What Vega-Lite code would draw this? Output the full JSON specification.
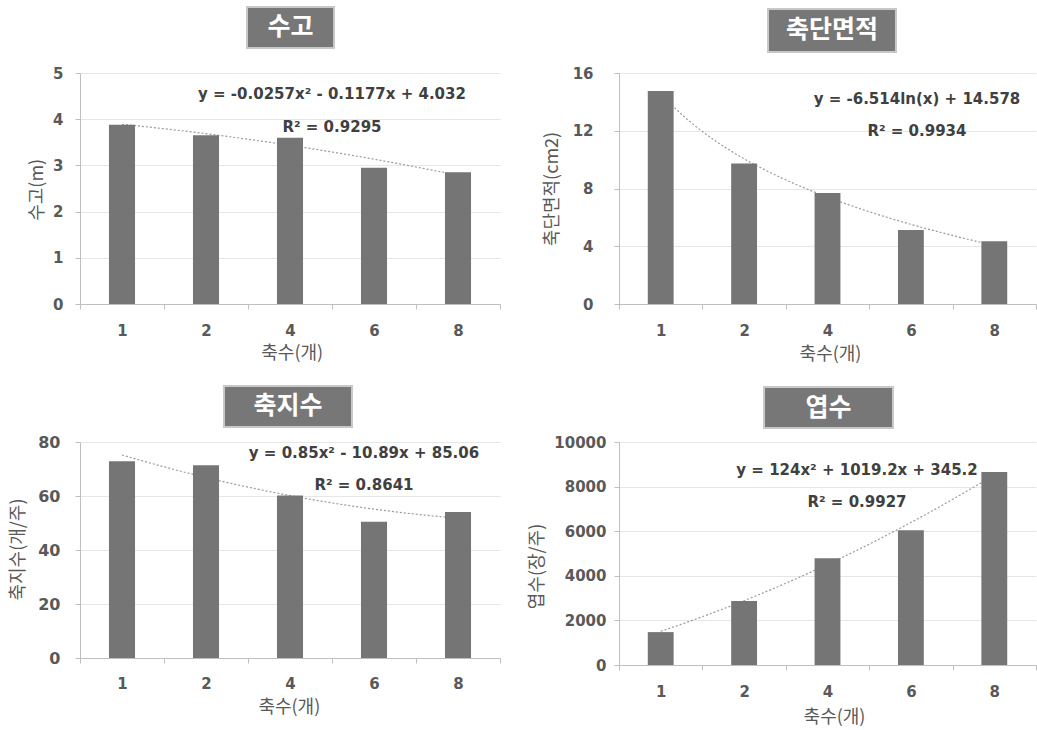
{
  "$schema": "https://vega.github.io/schema/vega-lite/v6.json",
  "background": "white",
  "padding": {"left": 9, "top": 5, "right": 0, "bottom": 0},
  "config": {
    "font": "Noto Sans CJK KR",
    "view": {"stroke": null},
    "axis": {
      "labelFont": "DejaVu Sans",
      "titleFont": "Noto Sans CJK KR",
      "labelColor": "#595959",
      "labelFontSize": 15,
      "labelFontWeight": "bold",
      "titleColor": "#595959",
      "titleFontSize": 18,
      "titleFontWeight": "normal",
      "domainColor": "#bfbfbf",
      "tickColor": "#bfbfbf",
      "gridColor": "#e6e6e6",
      "tickSize": 5
    },
    "text": {"font": "DejaVu Sans"}
  },
  "columns": 2,
  "bounds": "flush",
  "spacing": {"row": 138, "column": 119},
  "concat": [
    {
      "width": 420, "height": 231,
      "data": {"values": [
        {"축수": "1", "순번": 1, "수고": 3.88},
        {"축수": "2", "순번": 2, "수고": 3.65},
        {"축수": "4", "순번": 3, "수고": 3.60},
        {"축수": "6", "순번": 4, "수고": 2.95},
        {"축수": "8", "순번": 5, "수고": 2.85}
      ]},
      "layer": [
        {
          "transform": [{"regression": "수고", "on": "순번", "method": "poly", "order": 2, "extent": [1, 5]}],
          "mark": {"type": "line", "color": "#9a9a9a", "strokeWidth": 1.2, "strokeDash": [2, 2]},
          "encoding": {
            "x": {"field": "순번", "type": "quantitative", "scale": {"domain": [0.5, 5.5]}, "axis": null},
            "y": {"field": "수고", "type": "quantitative", "scale": {"domain": [0, 5]}, "title": "수고(m)"}
          }
        },
        {
          "mark": {"type": "bar", "color": "#757575", "width": {"band": 0.31}},
          "encoding": {
            "x": {"field": "축수", "type": "ordinal", "sort": null, "scale": {"paddingInner": 0, "paddingOuter": 0},
              "title": "축수(개)",
              "axis": {"tickBand": "extent", "labelAngle": 0, "labelPadding": 14, "titleX": 211.7, "titleY": 49.5, "titleBaseline": "middle", "titleAlign": "center"}},
            "y": {"field": "수고", "type": "quantitative", "scale": {"domain": [0, 5]}, "title": "수고(m)",
              "axis": {"values": [0, 1, 2, 3, 4, 5], "grid": true, "labelPadding": 12, "titleX": -43, "titleY": 116.3, "titleAngle": -90, "titleBaseline": "middle", "titleAlign": "center"}}
          }
        },
        {
          "data": {"values": [{"제목": "수고"}]},
          "mark": {"type": "rect", "fill": "#777777", "stroke": "#c8c8c8", "strokeWidth": 2},
          "encoding": {
            "x": {"datum": 2.488, "type": "quantitative", "scale": {"domain": [0.5, 5.5]}, "axis": null},
            "x2": {"datum": 3.524},
            "y": {"datum": 6.429, "type": "quantitative", "scale": {"domain": [0, 5]}},
            "y2": {"datum": 5.541}
          }
        },
        {
          "data": {"values": [{"제목": "수고"}]},
          "mark": {"type": "text", "font": "Noto Sans CJK KR", "color": "white", "fontSize": 25, "fontWeight": "bold"},
          "encoding": {
            "text": {"field": "제목"},
            "x": {"datum": 3.006, "type": "quantitative", "scale": {"domain": [0.5, 5.5]}, "axis": null},
            "y": {"datum": 5.985, "type": "quantitative", "scale": {"domain": [0, 5]}}
          }
        },
        {
          "data": {"values": [{"식": "y = -0.0257x² - 0.1177x + 4.032"}]},
          "mark": {"type": "text", "fontSize": 15, "fontWeight": "bold", "color": "#404040"},
          "encoding": {
            "text": {"field": "식"},
            "x": {"datum": 3.5, "type": "quantitative", "scale": {"domain": [0.5, 5.5]}, "axis": null},
            "y": {"datum": 4.545, "type": "quantitative", "scale": {"domain": [0, 5]}}
          }
        },
        {
          "data": {"values": [{"식": "R² = 0.9295"}]},
          "mark": {"type": "text", "fontSize": 15, "fontWeight": "bold", "color": "#404040"},
          "encoding": {
            "text": {"field": "식"},
            "x": {"datum": 3.5, "type": "quantitative", "scale": {"domain": [0.5, 5.5]}, "axis": null},
            "y": {"datum": 3.831, "type": "quantitative", "scale": {"domain": [0, 5]}}
          }
        }
      ],
      "resolve": {"scale": {"x": "independent"}}
    },
    {
      "width": 417, "height": 231,
      "data": {"values": [
        {"축수": "1", "순번": 1, "축단면적": 14.75},
        {"축수": "2", "순번": 2, "축단면적": 9.74},
        {"축수": "4", "순번": 3, "축단면적": 7.68},
        {"축수": "6", "순번": 4, "축단면적": 5.12},
        {"축수": "8", "순번": 5, "축단면적": 4.34}
      ]},
      "layer": [
        {
          "transform": [{"regression": "축단면적", "on": "순번", "method": "log", "extent": [1, 5]}],
          "mark": {"type": "line", "color": "#9a9a9a", "strokeWidth": 1.2, "strokeDash": [2, 2]},
          "encoding": {
            "x": {"field": "순번", "type": "quantitative", "scale": {"domain": [0.5, 5.5]}, "axis": null},
            "y": {"field": "축단면적", "type": "quantitative", "scale": {"domain": [0, 16]}, "title": "축단면적(cm2)"}
          }
        },
        {
          "mark": {"type": "bar", "color": "#757575", "width": {"band": 0.31}},
          "encoding": {
            "x": {"field": "축수", "type": "ordinal", "sort": null, "scale": {"paddingInner": 0, "paddingOuter": 0},
              "title": "축수(개)",
              "axis": {"tickBand": "extent", "labelAngle": 0, "labelPadding": 14, "titleX": 211, "titleY": 50, "titleBaseline": "middle", "titleAlign": "center"}},
            "y": {"field": "축단면적", "type": "quantitative", "scale": {"domain": [0, 16]}, "title": "축단면적(cm2)",
              "axis": {"values": [0, 4, 8, 12, 16], "grid": true, "labelPadding": 21, "titleX": -67, "titleY": 115.5, "titleAngle": -90, "titleBaseline": "middle", "titleAlign": "center"}}
          }
        },
        {
          "data": {"values": [{"제목": "축단면적"}]},
          "mark": {"type": "rect", "fill": "#777777", "stroke": "#c8c8c8", "strokeWidth": 2},
          "encoding": {
            "x": {"datum": 2.287, "type": "quantitative", "scale": {"domain": [0.5, 5.5]}, "axis": null},
            "x2": {"datum": 3.821},
            "y": {"datum": 20.433, "type": "quantitative", "scale": {"domain": [0, 16]}},
            "y2": {"datum": 17.455}
          }
        },
        {
          "data": {"values": [{"제목": "축단면적"}]},
          "mark": {"type": "text", "font": "Noto Sans CJK KR", "color": "white", "fontSize": 25, "fontWeight": "bold"},
          "encoding": {
            "text": {"field": "제목"},
            "x": {"datum": 3.054, "type": "quantitative", "scale": {"domain": [0.5, 5.5]}, "axis": null},
            "y": {"datum": 18.944, "type": "quantitative", "scale": {"domain": [0, 16]}}
          }
        },
        {
          "data": {"values": [{"식": "y = -6.514ln(x) + 14.578"}]},
          "mark": {"type": "text", "fontSize": 15, "fontWeight": "bold", "color": "#404040"},
          "encoding": {
            "text": {"field": "식"},
            "x": {"datum": 4.073, "type": "quantitative", "scale": {"domain": [0.5, 5.5]}, "axis": null},
            "y": {"datum": 14.199, "type": "quantitative", "scale": {"domain": [0, 16]}}
          }
        },
        {
          "data": {"values": [{"식": "R² = 0.9934"}]},
          "mark": {"type": "text", "fontSize": 15, "fontWeight": "bold", "color": "#404040"},
          "encoding": {
            "text": {"field": "식"},
            "x": {"datum": 4.073, "type": "quantitative", "scale": {"domain": [0.5, 5.5]}, "axis": null},
            "y": {"datum": 11.983, "type": "quantitative", "scale": {"domain": [0, 16]}}
          }
        }
      ],
      "resolve": {"scale": {"x": "independent"}}
    },
    {
      "width": 420, "height": 216,
      "data": {"values": [
        {"축수": "1", "순번": 1, "축지수": 72.9},
        {"축수": "2", "순번": 2, "축지수": 71.4},
        {"축수": "4", "순번": 3, "축지수": 60.2},
        {"축수": "6", "순번": 4, "축지수": 50.5},
        {"축수": "8", "순번": 5, "축지수": 54.1}
      ]},
      "layer": [
        {
          "transform": [{"regression": "축지수", "on": "순번", "method": "poly", "order": 2, "extent": [1, 5]}],
          "mark": {"type": "line", "color": "#9a9a9a", "strokeWidth": 1.2, "strokeDash": [2, 2]},
          "encoding": {
            "x": {"field": "순번", "type": "quantitative", "scale": {"domain": [0.5, 5.5]}, "axis": null},
            "y": {"field": "축지수", "type": "quantitative", "scale": {"domain": [0, 80]}, "title": "축지수(개/주)"}
          }
        },
        {
          "mark": {"type": "bar", "color": "#757575", "width": {"band": 0.31}},
          "encoding": {
            "x": {"field": "축수", "type": "ordinal", "sort": null, "scale": {"paddingInner": 0, "paddingOuter": 0},
              "title": "축수(개)",
              "axis": {"tickBand": "extent", "labelAngle": 0, "labelPadding": 13, "titleX": 208.8, "titleY": 49.5, "titleBaseline": "middle", "titleAlign": "center"}},
            "y": {"field": "축지수", "type": "quantitative", "scale": {"domain": [0, 80]}, "title": "축지수(개/주)",
              "axis": {"values": [0, 20, 40, 60, 80], "grid": true, "labelPadding": 15, "labelFontSize": 16, "titleX": -62, "titleY": 107, "titleAngle": -90, "titleBaseline": "middle", "titleAlign": "center"}}
          }
        },
        {
          "data": {"values": [{"제목": "축지수"}]},
          "mark": {"type": "rect", "fill": "#777777", "stroke": "#c8c8c8", "strokeWidth": 2},
          "encoding": {
            "x": {"datum": 2.214, "type": "quantitative", "scale": {"domain": [0.5, 5.5]}, "axis": null},
            "x2": {"datum": 3.738},
            "y": {"datum": 100.74, "type": "quantitative", "scale": {"domain": [0, 80]}},
            "y2": {"datum": 85.56}
          }
        },
        {
          "data": {"values": [{"제목": "축지수"}]},
          "mark": {"type": "text", "font": "Noto Sans CJK KR", "color": "white", "fontSize": 25, "fontWeight": "bold"},
          "encoding": {
            "text": {"field": "제목"},
            "x": {"datum": 2.976, "type": "quantitative", "scale": {"domain": [0.5, 5.5]}, "axis": null},
            "y": {"datum": 93.15, "type": "quantitative", "scale": {"domain": [0, 80]}}
          }
        },
        {
          "data": {"values": [{"식": "y = 0.85x² - 10.89x + 85.06"}]},
          "mark": {"type": "text", "fontSize": 15, "fontWeight": "bold", "color": "#404040"},
          "encoding": {
            "text": {"field": "식"},
            "x": {"datum": 3.881, "type": "quantitative", "scale": {"domain": [0.5, 5.5]}, "axis": null},
            "y": {"datum": 76.04, "type": "quantitative", "scale": {"domain": [0, 80]}}
          }
        },
        {
          "data": {"values": [{"식": "R² = 0.8641"}]},
          "mark": {"type": "text", "fontSize": 15, "fontWeight": "bold", "color": "#404040"},
          "encoding": {
            "text": {"field": "식"},
            "x": {"datum": 3.881, "type": "quantitative", "scale": {"domain": [0.5, 5.5]}, "axis": null},
            "y": {"datum": 64.07, "type": "quantitative", "scale": {"domain": [0, 80]}}
          }
        }
      ],
      "resolve": {"scale": {"x": "independent"}}
    },
    {
      "width": 417, "height": 223,
      "data": {"values": [
        {"축수": "1", "순번": 1, "엽수": 1475},
        {"축수": "2", "순번": 2, "엽수": 2867},
        {"축수": "4", "순번": 3, "엽수": 4785},
        {"축수": "6", "순번": 4, "엽수": 6040},
        {"축수": "8", "순번": 5, "엽수": 8653}
      ]},
      "layer": [
        {
          "transform": [{"regression": "엽수", "on": "순번", "method": "poly", "order": 2, "extent": [1, 5]}],
          "mark": {"type": "line", "color": "#9a9a9a", "strokeWidth": 1.2, "strokeDash": [2, 2]},
          "encoding": {
            "x": {"field": "순번", "type": "quantitative", "scale": {"domain": [0.5, 5.5]}, "axis": null},
            "y": {"field": "엽수", "type": "quantitative", "scale": {"domain": [0, 10000]}, "title": "엽수(장/주)"}
          }
        },
        {
          "mark": {"type": "bar", "color": "#757575", "width": {"band": 0.31}},
          "encoding": {
            "x": {"field": "축수", "type": "ordinal", "sort": null, "scale": {"paddingInner": 0, "paddingOuter": 0},
              "title": "축수(개)",
              "axis": {"tickBand": "extent", "labelAngle": 0, "labelPadding": 14, "titleX": 215, "titleY": 52, "titleBaseline": "middle", "titleAlign": "center"}},
            "y": {"field": "엽수", "type": "quantitative", "scale": {"domain": [0, 10000]}, "title": "엽수(장/주)",
              "axis": {"values": [0, 2000, 4000, 6000, 8000, 10000], "format": "d", "grid": true, "labelPadding": 8, "titleX": -81.5, "titleY": 124, "titleAngle": -90, "titleBaseline": "middle", "titleAlign": "center"}}
          }
        },
        {
          "data": {"values": [{"제목": "엽수"}]},
          "mark": {"type": "rect", "fill": "#777777", "stroke": "#c8c8c8", "strokeWidth": 2},
          "encoding": {
            "x": {"datum": 2.239, "type": "quantitative", "scale": {"domain": [0.5, 5.5]}, "axis": null},
            "x2": {"datum": 3.785},
            "y": {"datum": 12466, "type": "quantitative", "scale": {"domain": [0, 10000]}},
            "y2": {"datum": 10628}
          }
        },
        {
          "data": {"values": [{"제목": "엽수"}]},
          "mark": {"type": "text", "font": "Noto Sans CJK KR", "color": "white", "fontSize": 25, "fontWeight": "bold"},
          "encoding": {
            "text": {"field": "제목"},
            "x": {"datum": 3.012, "type": "quantitative", "scale": {"domain": [0.5, 5.5]}, "axis": null},
            "y": {"datum": 11547, "type": "quantitative", "scale": {"domain": [0, 10000]}}
          }
        },
        {
          "data": {"values": [{"식": "y = 124x² + 1019.2x + 345.2"}]},
          "mark": {"type": "text", "fontSize": 15, "fontWeight": "bold", "color": "#404040"},
          "encoding": {
            "text": {"field": "식"},
            "x": {"datum": 3.354, "type": "quantitative", "scale": {"domain": [0.5, 5.5]}, "axis": null},
            "y": {"datum": 8731, "type": "quantitative", "scale": {"domain": [0, 10000]}}
          }
        },
        {
          "data": {"values": [{"식": "R² = 0.9927"}]},
          "mark": {"type": "text", "fontSize": 15, "fontWeight": "bold", "color": "#404040"},
          "encoding": {
            "text": {"field": "식"},
            "x": {"datum": 3.354, "type": "quantitative", "scale": {"domain": [0.5, 5.5]}, "axis": null},
            "y": {"datum": 7309, "type": "quantitative", "scale": {"domain": [0, 10000]}}
          }
        }
      ],
      "resolve": {"scale": {"x": "independent"}}
    }
  ]
}
